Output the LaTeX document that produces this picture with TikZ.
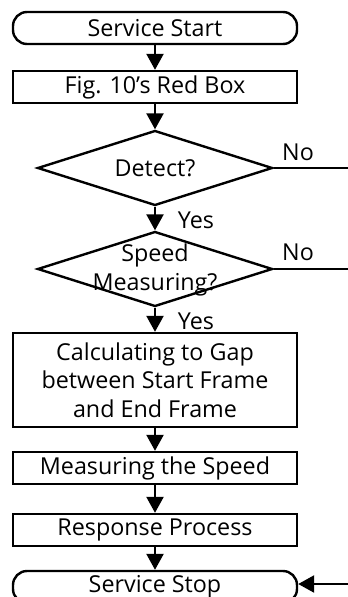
\documentclass[tikz,border=0pt]{standalone}
\usepackage{fontspec}
\setmainfont{Open Sans}
\usetikzlibrary{arrows.meta,shapes.geometric}
\begin{document}
\begin{tikzpicture}[x=1pt,y=-1pt,
  line width=2.4pt,
  every node/.style={font=\fontsize{23.3}{28.5}\selectfont, inner sep=0pt},
  proc/.style={draw, rectangle, minimum width=284pt, minimum height=32pt},
  term/.style={draw, rectangle, rounded corners=14pt, minimum width=284pt, minimum height=32pt},
  decide/.style={draw, diamond, minimum width=235pt, minimum height=75pt},
  flow/.style={-{Triangle[width=17pt,length=16pt]}},
  txt/.style={align=center}]
\useasboundingbox (0,0) rectangle (348,597);
\clip (0,0) rectangle (348,597);

% main column of steps
\node[term] (start) at (155,28) {Service Start};
\node[proc] (fig) at (155,87) {Fig. 10’s Red Box};
\node[decide] (detect) at (155,168) {};
\node[txt] (detectT) at (155,168) {Detect?};
\node[decide] (speed) at (155,269) {};
\node[txt] (speedT) at (155,270) {Speed\\Measuring?};
\node[proc, minimum height=94pt, txt] (calc) at (155,380) {Calculating to Gap\\between Start Frame\\and End Frame};
\node[proc] (meas) at (155,468) {Measuring the Speed};
\node[proc] (resp) at (155,530) {Response Process};
\node[term] (stop) at (155,587) {Service Stop};

% loose ends on the right side
\coordinate (noA) at (348,168);
\coordinate (noB) at (348,269);
\coordinate (back) at (348,584);

% connectors
\draw[flow] (start) -- (fig);
\draw[flow] (fig) -- (detect);
\draw[flow] (detect) -- (speed);
\draw[flow] (speed) -- (calc);
\draw[flow] (calc) -- (meas);
\draw[flow] (meas) -- (resp);
\draw[flow] (resp) -- (stop);
\draw (detect.east) -- (noA);
\draw (speed.east) -- (noB);
\draw[flow] (back) -- (stop.east |- back);

% branch labels
\node (no1) at (298,152) {No};
\node (no2) at (298,252) {No};
\node (yes1) at (196,220) {Yes};
\node (yes2) at (196,321) {Yes};
\end{tikzpicture}
\end{document}
